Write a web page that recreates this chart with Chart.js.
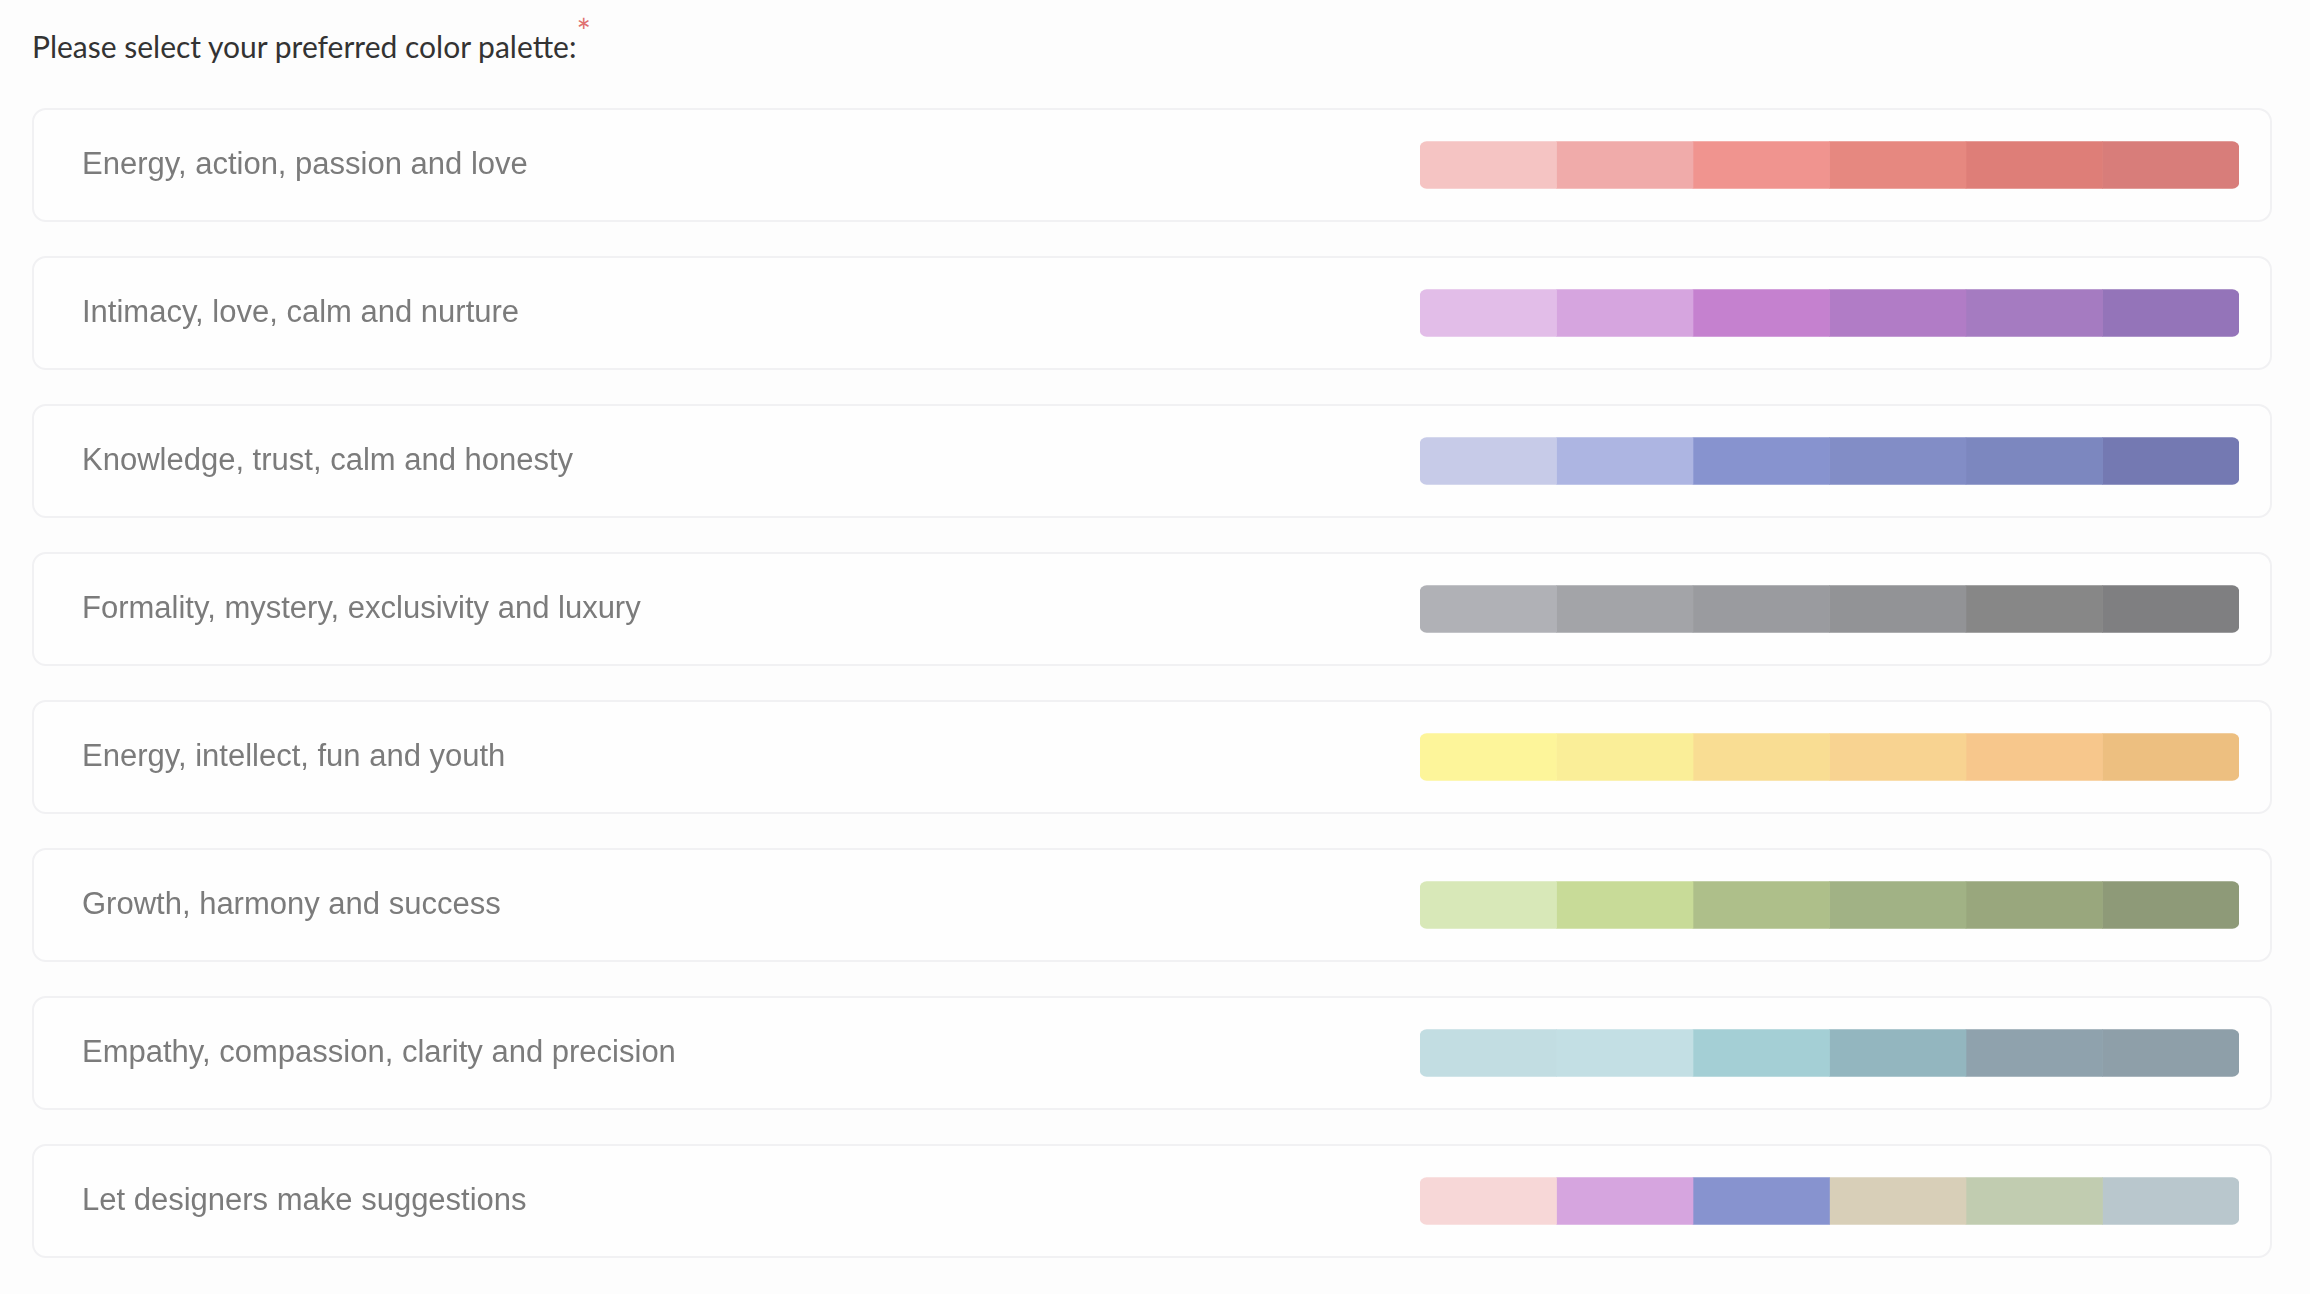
<!DOCTYPE html>
<html><head><meta charset="utf-8">
<script src="https://cdn.jsdelivr.net/npm/chart.js@4/dist/chart.umd.min.js"></script>
<style>
body{margin:0;background:#fdfdfd;width:2310px;height:1294px;position:relative;overflow:hidden;font-family:"Liberation Sans",Arial,sans-serif}
#title{position:absolute;left:32px;top:24px;font-family:Lato,"Open Sans",sans-serif;font-size:30px;color:#333}
#title span{color:#e07070;position:relative;top:-14px;font-size:34px}
.card{position:absolute;left:32px;width:2240px;height:114px;border:2px solid #f1f1f3;border-radius:14px;background:#fefefe;box-sizing:border-box}
#wrap{position:absolute;left:0;top:0;width:2310px;height:1294px}
</style></head><body>
<div id="title">Please select your preferred color palette:<span>*</span></div>
<div id="cards"></div>
<div id="wrap"><canvas id="c" width="2310" height="1294" style="width:2310px;height:1294px"></canvas></div>
<script>
const categories=["Energy, action, passion and love","Intimacy, love, calm and nurture","Knowledge, trust, calm and honesty","Formality, mystery, exclusivity and luxury","Energy, intellect, fun and youth","Growth, harmony and success","Empathy, compassion, clarity and precision","Let designers make suggestions"];
const segmentValues=[1,1,1,1,1,1];
const row1=["#f5c4c3","#f0abaa","#f0948f","#e68880","#de7e78","#d87d7a"];
const row2=["#e2bde8","#d6a5df","#c581cf","#b17cc6","#a57bc1","#9474b9"];
const row3=["#c7cbe8","#adb5e2","#8793cf","#828dc6","#7c87bf","#7479b2"];
const row4=["#b0b1b6","#a3a4a8","#9a9b9f","#929396","#878787","#7f7f81"];
const row5=["#fdf59a","#faee98","#f9dd93","#f8d391","#f7c78c","#edbf80"];
const row6=["#d8e8b8","#c8db98","#aebf8a","#a1b285","#99a77d","#8e9a78"];
const row7=["#c2dde2","#c3dfe4","#a4cfd5","#93b6bf","#8fa2ad","#8e9fa9"];
const row8=["#f7d7d7","#d6a5df","#8793cf","#d8cfb8","#c1ccb0","#b9c7cd"];
const rows=[row1,row2,row3,row4,row5,row6,row7,row8];

const cards=document.getElementById('cards');
categories.forEach((c,i)=>{const d=document.createElement('div');d.className='card';d.style.top=(108+i*148)+'px';cards.appendChild(d);});

const datasets=segmentValues.map((v,s)=>({
  data:categories.map(()=>v),
  backgroundColor:rows.map(r=>r[s]),
  barThickness:47,
  borderSkipped:false,
  borderRadius:s===0?{topLeft:7,bottomLeft:7,topRight:0,bottomRight:0}:(s===5?{topRight:7,bottomRight:7,topLeft:0,bottomLeft:0}:0)
}));
new Chart(document.getElementById('c'),{
  type:'bar',
  data:{labels:categories,datasets},
  options:{indexAxis:'y',responsive:false,animation:false,devicePixelRatio:1,
    layout:{padding:{left:82,right:71,top:91,bottom:19}},
    plugins:{legend:{display:false},tooltip:{enabled:false}},
    scales:{
      x:{stacked:true,display:false,min:0,max:6},
      y:{stacked:true,grid:{display:false},border:{display:false},
        ticks:{crossAlign:'far',color:'#7b7b7b',font:{family:'"Liberation Sans", Arial',size:31},padding:0},
        afterFit:a=>{a.width=1420-82;}}
    }}
});
</script>
</body></html>
